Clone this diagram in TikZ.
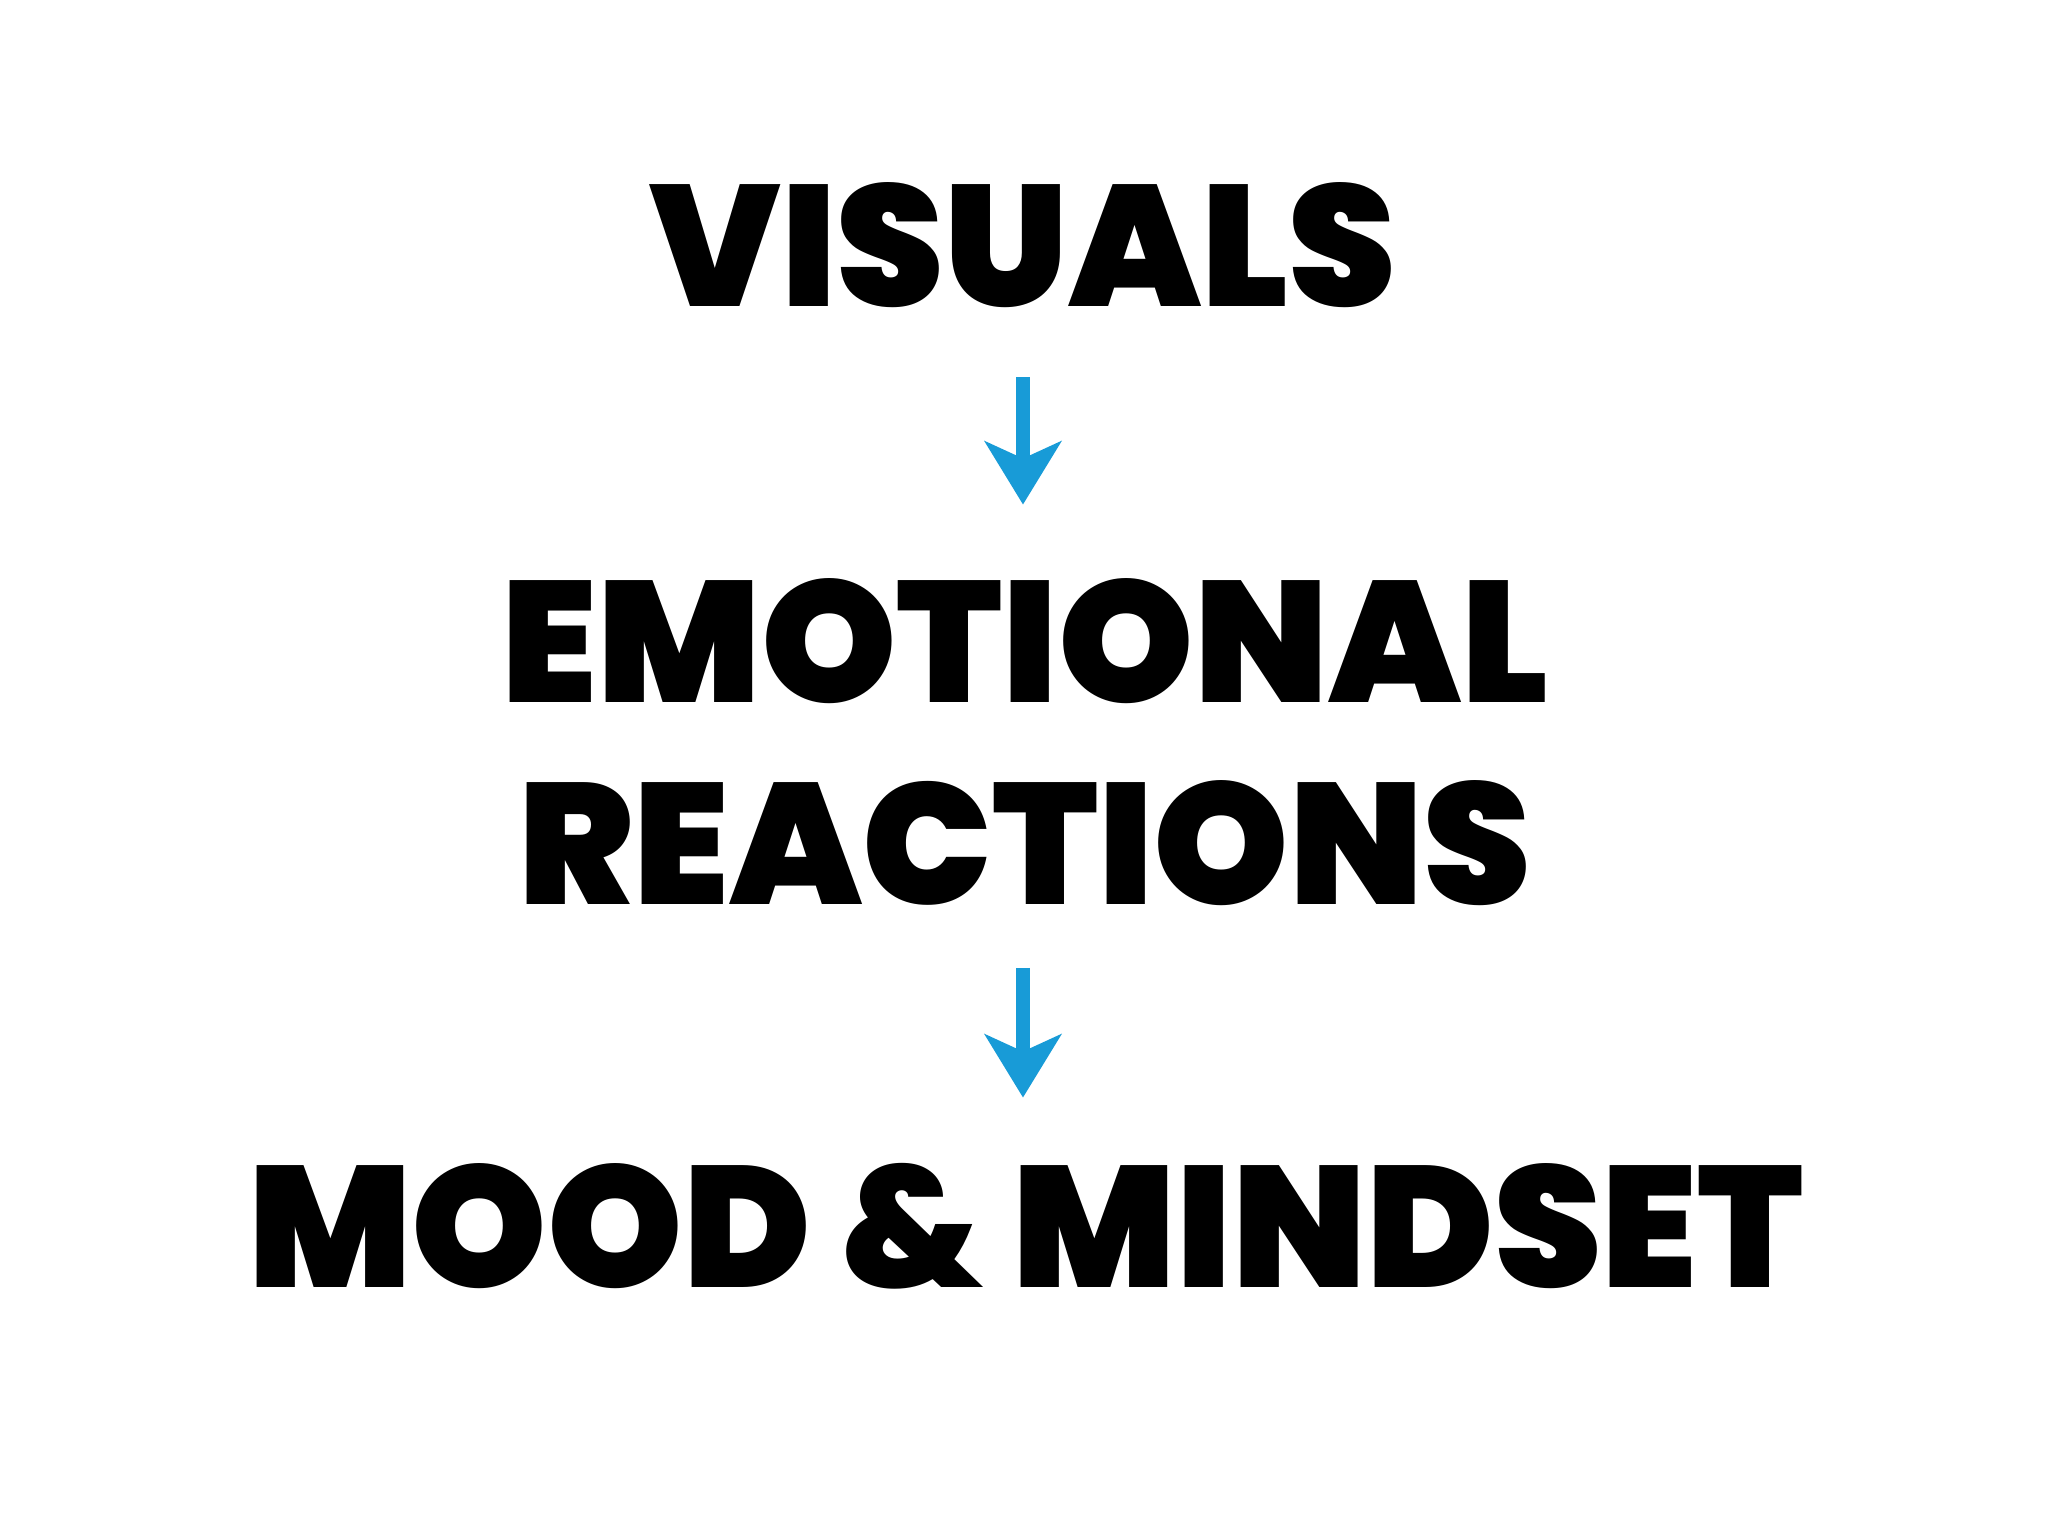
\documentclass[tikz,border=0pt]{standalone}
\usepackage{fontspec}
\setmainfont{Poppins}
\newfontfamily\headfont{Poppins Black}
\usetikzlibrary{positioning,arrows.meta}
\definecolor{crayonblue}{RGB}{24,155,215}

\tikzset{
  headline/.style={font=\headfont\fontsize{49}{57}\selectfont, inner sep=0pt,
    text height=34pt, text depth=0pt},
  flowarrow/.style={draw=crayonblue, line width=0.14cm,
    -{Stealth[length=0.63cm, width=0.76cm, inset=0.17cm]}}
}

\begin{document}
\begin{tikzpicture}
\useasboundingbox[fill=white] (0,0) rectangle (20.48,-15.36);

\node[headline] (visuals)   at (10.23,-2.47)  {VISUALS};
\node[headline] (emotional) at (10.25,-6.43)  {EMOTIONAL};
\node[headline] (reactions) at (10.25,-8.445) {REACTIONS};
\node[headline] (mood)      at (10.26,-12.28) {MOOD \& MINDSET};
\coordinate (axis) at (10.23,0);

% arrows between the stages
\draw[flowarrow] ([yshift=-0.70cm]visuals.south -| axis) -- ([yshift=0.78cm]emotional.north -| axis);
\draw[flowarrow] ([yshift=-0.63cm]reactions.south -| axis) -- ([yshift=0.70cm]mood.north -| axis);
\end{tikzpicture}
\end{document}
